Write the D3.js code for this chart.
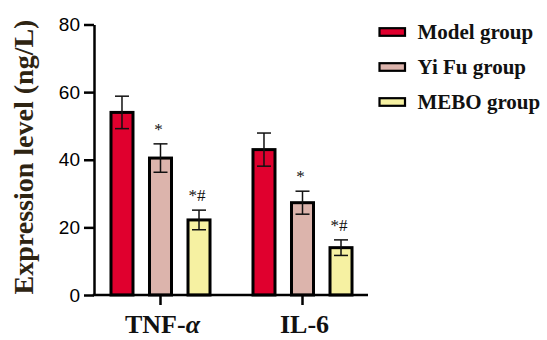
<!DOCTYPE html>
<html>
<head>
<meta charset="utf-8">
<script src="https://cdn.jsdelivr.net/npm/d3@7"></script>
<style>
  html, body { margin: 0; padding: 0; background: #fff; }
  svg { display: block; }
</style>
</head>
<body>
<svg id="chart" width="547" height="340"></svg>
<script>
// ---- data ----
const categories = ["TNF-α", "IL-6"];
const seriesNames = ["Model group", "Yi Fu group", "MEBO group"];
const modelValues = [54, 43];
const yiFuValues = [40.5, 27.3];
const meboValues = [22.2, 14];
const modelErrors = [4.8, 4.9];
const yiFuErrors = [4.2, 3.4];
const meboErrors = [2.9, 2.3];
const yiFuMarks = ["*", "*"];
const meboMarks = ["*#", "*#"];
const yTicks = [0, 20, 40, 60, 80];
const yLabel = "Expression level (ng/L)";

const colors = ["#e0002e", "#dcb4ac", "#f6f1a2"];
const values = [modelValues, yiFuValues, meboValues];
const errors = [modelErrors, yiFuErrors, meboErrors];
const marks = [null, yiFuMarks, meboMarks];

const rows = [];
categories.forEach((c, ci) => {
  seriesNames.forEach((s, si) => {
    rows.push({cat: c, ser: s, si, v: values[si][ci], e: errors[si][ci], m: marks[si] ? marks[si][ci] : null});
  });
});

const svg = d3.select("#chart");
const serif = "'Liberation Serif', 'Times New Roman', serif";
const sans = "'Liberation Sans', Arial, sans-serif";

const y = d3.scaleLinear().domain([0, 80]).range([295, 24.5]);
const x0 = d3.scaleBand().domain(categories).range([89.5, 373.5]).padding(0);
const x1 = d3.scaleBand().domain(seriesNames).range([0, x0.bandwidth()])
  .paddingInner(0.4286).paddingOuter(0.558);

const axisX = 94;

// bars
const g = svg.append("g");
g.selectAll("rect.bar").data(rows).join("rect")
  .attr("class", "bar")
  .attr("x", d => x0(d.cat) + x1(d.ser))
  .attr("width", x1.bandwidth())
  .attr("y", d => y(d.v))
  .attr("height", d => y(0) - y(d.v))
  .attr("fill", d => colors[d.si])
  .attr("stroke", "#000")
  .attr("stroke-width", 3);

// error bars
const cx = d => x0(d.cat) + x1(d.ser) + x1.bandwidth() / 2;
const eg = g.selectAll("g.err").data(rows).join("g").attr("class", "err")
  .attr("stroke", "#111").attr("stroke-width", 1.5);
eg.append("line").attr("x1", cx).attr("x2", cx)
  .attr("y1", d => y(d.v + d.e)).attr("y2", d => y(d.v - d.e));
eg.append("line").attr("x1", d => cx(d) - 7).attr("x2", d => cx(d) + 7)
  .attr("y1", d => y(d.v + d.e)).attr("y2", d => y(d.v + d.e));
eg.append("line").attr("x1", d => cx(d) - 7).attr("x2", d => cx(d) + 7)
  .attr("y1", d => y(d.v - d.e)).attr("y2", d => y(d.v - d.e));

// significance marks
g.selectAll("text.sig").data(rows.filter(d => d.m)).join("text")
  .attr("class", "sig")
  .attr("x", d => cx(d) - 2)
  .attr("y", d => y(d.v + d.e) - 9)
  .attr("text-anchor", "middle")
  .attr("font-family", serif)
  .attr("font-size", 17)
  .attr("fill", "#111")
  .text(d => d.m);

// y axis
const ya = svg.append("g").attr("transform", `translate(${axisX},0)`)
  .call(d3.axisLeft(y).tickValues(yTicks).tickSize(10).tickSizeOuter(0).tickPadding(4));
ya.select(".domain").attr("stroke", "#000").attr("stroke-width", 2.5);
ya.selectAll(".tick line").attr("stroke", "#000").attr("stroke-width", 2.5);
ya.selectAll(".tick text").attr("font-family", sans).attr("font-size", 19).attr("fill", "#000");

// x axis
const xa = svg.append("g").attr("transform", `translate(0,${y(0)})`)
  .call(d3.axisBottom(x0).tickSize(10).tickSizeOuter(0).tickFormat(""));
xa.select(".domain").remove();
xa.selectAll(".tick line").attr("stroke", "#000").attr("stroke-width", 2.5);
svg.append("line").attr("x1", axisX - 1.25).attr("x2", 368)
  .attr("y1", y(0)).attr("y2", y(0)).attr("stroke", "#000").attr("stroke-width", 2.5);

// category labels
svg.selectAll("text.cat").data(categories).join("text")
  .attr("class", "cat")
  .attr("x", d => x0(d) + x0.bandwidth() / 2 + 2)
  .attr("y", 333)
  .attr("text-anchor", "middle")
  .attr("font-family", serif)
  .attr("font-weight", "bold")
  .attr("font-size", 26)
  .attr("fill", "#111")
  .each(function(d) {
    const t = d3.select(this);
    const idx = d.indexOf("α");
    if (idx >= 0) {
      t.append("tspan").text(d.slice(0, idx));
      t.append("tspan").attr("font-style", "italic").text("α");
    } else {
      t.text(d);
    }
  });

// y label
svg.append("text")
  .attr("transform", "translate(33,157) rotate(-90)")
  .attr("text-anchor", "middle")
  .attr("font-family", serif)
  .attr("font-weight", "bold")
  .attr("font-size", 28)
  .attr("fill", "#2e2412")
  .text(yLabel);

// legend
const lg = svg.append("g");
const li = lg.selectAll("g").data(seriesNames).join("g")
  .attr("transform", (d, i) => `translate(379.5,${32 + i * 35})`);
li.append("rect").attr("x", 0).attr("y", -3.8).attr("width", 25.5).attr("height", 7.6)
  .attr("fill", (d, i) => colors[i]).attr("stroke", "#000").attr("stroke-width", 2.2);
li.append("text").attr("x", 38).attr("y", 6.5)
  .attr("font-family", serif).attr("font-weight", "bold").attr("font-size", 21)
  .attr("fill", "#111").text(d => d);
</script>
</body>
</html>
